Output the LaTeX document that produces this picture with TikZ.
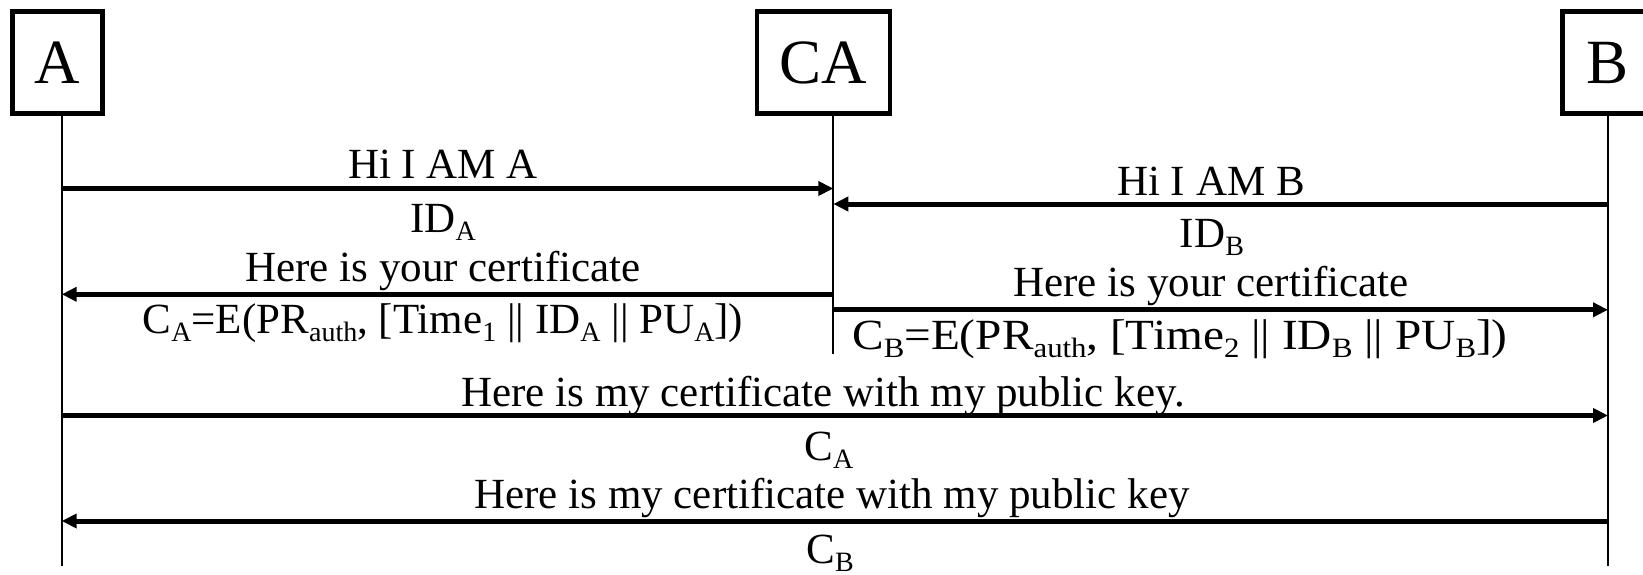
\documentclass[tikz,border=0pt]{standalone}
\usepackage{fontspec}
\setmainfont{Liberation Serif}
\usetikzlibrary{arrows.meta}
\newcommand{\lowsub}[1]{\raisebox{-0.19em}{\fontsize{28pt}{28pt}\selectfont #1}}
\begin{document}
\begin{tikzpicture}[x=1pt,y=-1pt,
  actor/.style={draw, line width=4.7pt, minimum height=101.6pt, inner sep=0pt,
    font=\fontsize{63pt}{63pt}\selectfont},
  life/.style={line width=2pt},
  msg/.style={line width=5pt, -{Triangle[length=15pt,width=14pt]}},
  lbl/.style={anchor=base, inner sep=0pt, font=\fontsize{43pt}{43pt}\selectfont}]
\clip (0,0) rectangle (1643,575);
% actors
\node[actor, minimum width=90.4pt] (A) at (57.5,62.5) {A};
\node[actor, minimum width=133pt] (CA) at (823.5,62.5) {CA};
\node[actor, minimum width=90.4pt] (B) at (1607.5,62.5) {B};
% lifeline coordinates
\coordinate (Atop) at (61.7,115.7);
\coordinate (Abot) at (61.7,566);
\coordinate (CAtop) at (833.3,115.7);
\coordinate (CAbot) at (833.3,354);
\coordinate (Btop) at (1608,115.7);
\coordinate (Bbot) at (1608,566);
\draw[life] (Atop) -- (Abot);
\draw[life] (CAtop) -- (CAbot);
\draw[life] (Btop) -- (Bbot);
% message end points
\coordinate (a1) at (61.7,188.5);   \coordinate (ca1) at (833.3,188.5);
\coordinate (b2) at (1608,204);     \coordinate (ca2) at (833.3,204);
\coordinate (ca3) at (833.3,294.3); \coordinate (a3) at (61.7,294.3);
\coordinate (ca4) at (833.3,309.8); \coordinate (b4) at (1608,309.8);
\coordinate (a5) at (61.7,415.5);   \coordinate (b5) at (1608,415.5);
\coordinate (b6) at (1608,521);     \coordinate (a6) at (61.7,521);
\draw[msg] (a1) -- (ca1);
\draw[msg] (b2) -- (ca2);
\draw[msg] (ca3) -- (a3);
\draw[msg] (ca4) -- (b4);
\draw[msg] (a5) -- (b5);
\draw[msg] (b6) -- (a6);
% labels
\node[lbl] (t1) at (443,178) {Hi I AM A};
\node[lbl] (t1b) at (443,232) {ID\lowsub{A}};
\node[lbl] (t3) at (443,281.7) {Here is your certificate};
\node[lbl] (t3b) at (443,333) {C\lowsub{A}=E(PR\lowsub{auth}, [Time\lowsub{1} || ID\lowsub{A} || PU\lowsub{A}])};
\node[lbl] (t2) at (1211,195) {Hi I AM B};
\node[lbl] (t2b) at (1212,247) {ID\lowsub{B}};
\node[lbl] (t4) at (1211,296.7) {Here is your certificate};
\node[lbl] (t4b) at (1180,349) {\scalebox{1.1}[1]{C\lowsub{B}=E(PR\lowsub{auth}, [Time\lowsub{2} || ID\lowsub{B} || PU\lowsub{B}])}};
\node[lbl] (t5) at (823,406) {Here is my certificate with my public key.};
\node[lbl] (t5b) at (829,460) {C\lowsub{A}};
\node[lbl] (t6) at (832,508) {Here is my certificate with my public key};
\node[lbl] (t6b) at (830,563) {C\lowsub{B}};
\end{tikzpicture}
\end{document}
